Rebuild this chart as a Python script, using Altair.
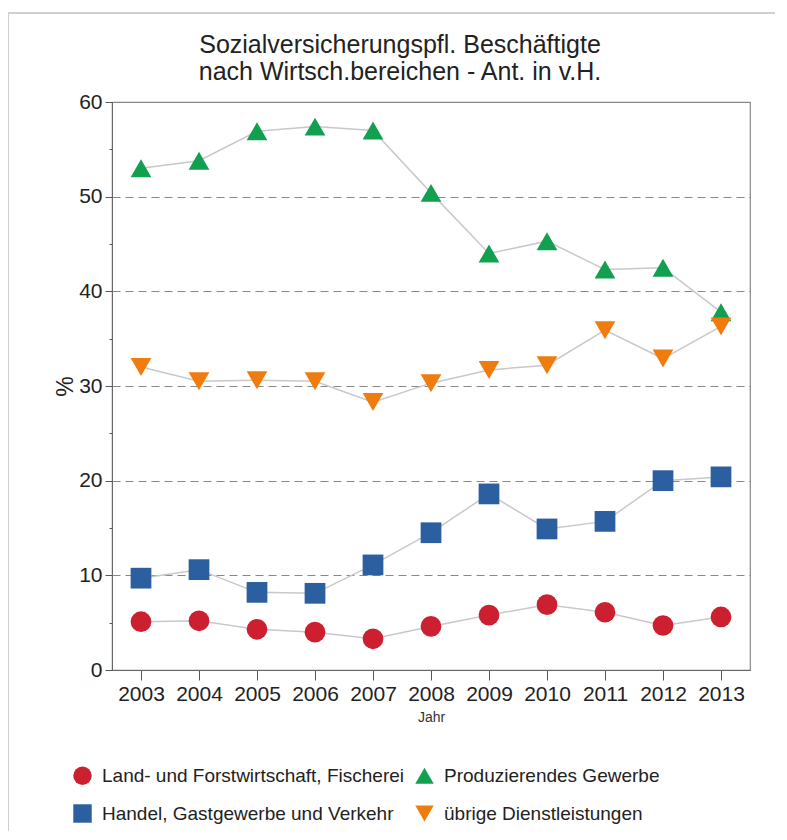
import altair as alt
import pandas as pd

years = list(range(2003, 2014))
series_names = [
    "Land- und Forstwirtschaft, Fischerei",
    "Handel, Gastgewerbe und Verkehr",
    "Produzierendes Gewerbe",
    "übrige Dienstleistungen",
]
land = [5.1, 5.2, 4.3, 4.0, 3.3, 4.6, 5.8, 6.9, 6.1, 4.7, 5.6]
handel = [9.7, 10.6, 8.2, 8.1, 11.1, 14.5, 18.6, 14.9, 15.7, 20.0, 20.4]
prod = [53.0, 53.8, 56.9, 57.4, 57.0, 50.4, 44.0, 45.3, 42.3, 42.5, 37.8]
uebrige = [32.0, 30.5, 30.6, 30.5, 28.3, 30.3, 31.7, 32.2, 35.9, 32.9, 36.3]
colors = ["#cc1f2f", "#2b5fa0", "#10a050", "#f07c10"]
shapes = ["circle", "square", "triangle-up", "triangle-down"]
y_ticks = list(range(0, 61, 5))

rows = []
for name, vals in zip(series_names, [land, handel, prod, uebrige]):
    for yr, v in zip(years, vals):
        rows.append({"Jahr": yr, "Wert": v, "Bereich": name})
df = pd.DataFrame(rows)

FONT = "Liberation Sans"

x_enc = alt.X(
    "Jahr:Q",
    scale=alt.Scale(domain=[2002.5, 2013.5], nice=False, zero=False),
    axis=alt.Axis(
        values=years, format="d", title="Jahr", grid=False,
        labelFontSize=21, labelColor="#222", labelFont=FONT, labelPadding=3,
        tickSize=10, tickColor="#555", domainColor="#666",
        titleFontSize=14, titleColor="#333", titleFont=FONT, titleFontWeight="normal",
        titlePadding=6,
    ),
)
y_enc = alt.Y(
    "Wert:Q",
    scale=alt.Scale(domain=[0, 60], nice=False),
    axis=alt.Axis(
        values=y_ticks, title="%",
        labelExpr="datum.value % 10 === 0 ? datum.label : ''",
        labelFontSize=21, labelColor="#222", labelFont=FONT, labelPadding=3,
        tickSize={"condition": {"test": "datum.value % 10 === 0", "value": 7}, "value": 3},
        tickColor="#555", domainColor="#666",
        grid=True, gridColor="#888", gridDash=[8, 5], gridWidth=1.2,
        gridOpacity={"condition": {"test": "datum.value % 10 === 0 && datum.value > 0 && datum.value < 60", "value": 1}, "value": 0},
        titleFontSize=23, titleColor="#222", titleFont=FONT, titleFontWeight="normal",
        titlePadding=1,
    ),
)

frame = alt.Chart(pd.DataFrame({"a": [0]})).mark_rect(
    fill="transparent", stroke="#cfcfcf", strokeWidth=2
).encode(
    x=alt.value(-104), x2=alt.value(700), y=alt.value(-89), y2=alt.value(760)
)

lines = alt.Chart(df).mark_line(color="#c8c8c8", strokeWidth=1.5).encode(
    x=x_enc, y=y_enc, detail="Bereich:N"
)

points = alt.Chart(df).mark_point(filled=True, opacity=1, size=430).encode(
    x=x_enc,
    y=y_enc,
    color=alt.Color("Bereich:N", scale=alt.Scale(domain=series_names, range=colors),
                    legend=alt.Legend(title=None)),
    shape=alt.Shape("Bereich:N", scale=alt.Scale(domain=series_names, range=shapes),
                    legend=alt.Legend(title=None)),
)

chart = alt.layer(frame, lines, points).properties(
    width=638,
    height=568,
    autosize=alt.AutoSizeParams(type="none"),
    padding={"left": 104, "top": 94, "right": 25, "bottom": 161},
    title=alt.TitleParams(
        ["Sozialversicherungspfl. Beschäftigte", "nach Wirtsch.bereichen - Ant. in v.H."],
        font=FONT, fontSize=25, fontWeight="normal", color="#222",
        anchor="middle", frame="group", offset=0, lineHeight=27, dx=-31, dy=73,
    ),
).configure_view(stroke="#888", strokeWidth=1.2).configure_legend(
    orient="none", legendX=-39, legendY=664, columns=2,
    labelFont=FONT, labelFontSize=19, labelColor="#222", labelLimit=0,
    symbolSize=340, symbolStrokeWidth=0, rowPadding=18, columnPadding=10,
    labelOffset=10, symbolType="circle",
)

chart.save("out.html", embed_options={"renderer": "svg", "actions": False})
